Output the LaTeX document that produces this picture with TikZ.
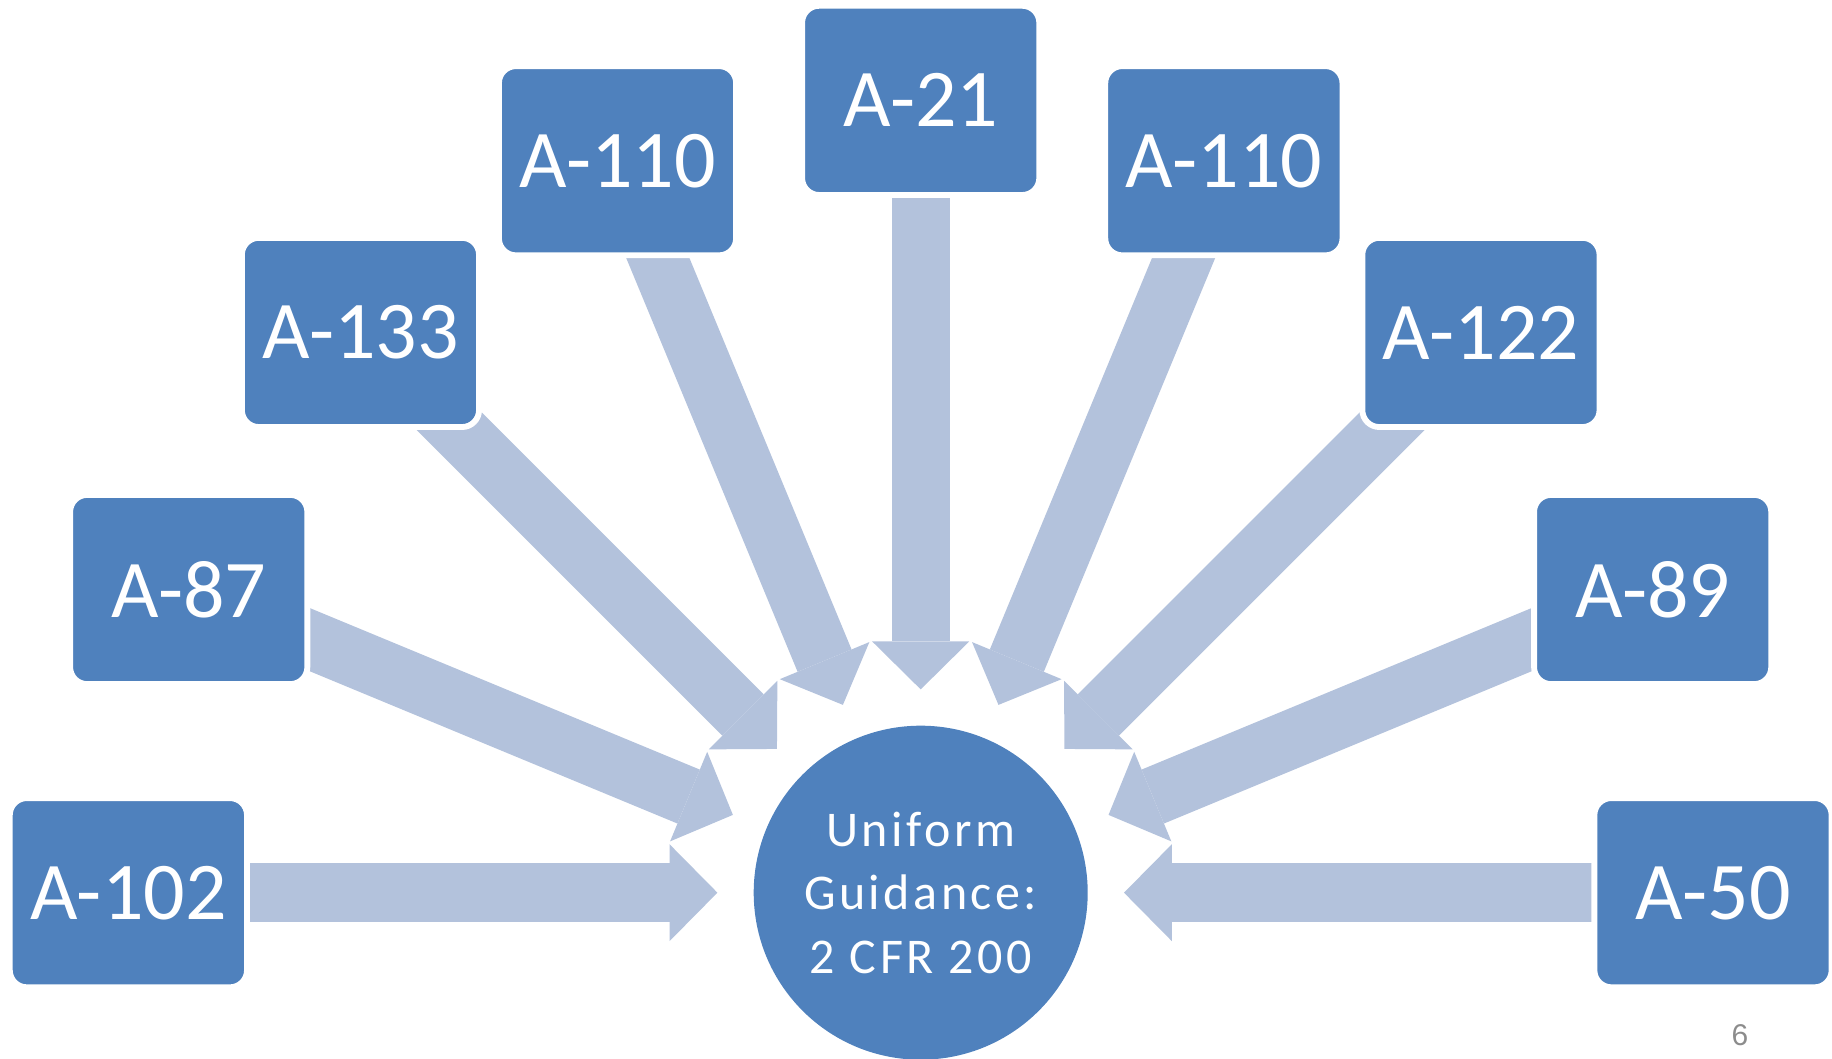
\documentclass[tikz,border=0pt]{standalone}
\usepackage{fontspec}
\setmainfont{Carlito}
\newfontfamily\hubfont[LetterSpace=7]{Carlito}
\newfontfamily\pagefont{Liberation Sans}
\usetikzlibrary{arrows.meta, backgrounds}
\definecolor{boxblue}{RGB}{79,129,189}
\definecolor{arrowblue}{RGB}{179,194,220}

\begin{document}
\begin{tikzpicture}[
  x=1pt, y=1pt,
  block/.style={rectangle, draw=white, line width=5.85pt, fill=boxblue, rounded corners=17pt, minimum width=237.2pt, minimum height=189.2pt, inner sep=0pt, text=white, font=\fontsize{82}{90}\selectfont},
  hubnode/.style={circle, fill=boxblue, minimum size=334pt, inner sep=0pt, outer sep=0pt, align=center, text=white, font=\hubfont\fontsize{50}{63.7}\selectfont},
  bigarrow/.style={draw=arrowblue, line width=58.4pt, shorten >=36.3pt, -{Triangle[length=47.9pt, width=97pt, line width=0pt]}},
]
  \useasboundingbox (0,0) rectangle (1832,1059);

  \node[hubnode] (hub) at (920.7,166.3) {Uniform\\Guidance:\\2 CFR 200};

  \node[block] (a102) at ([shift={(180:792.3pt)}]hub) {A-102};
  \node[block] (a87) at ([shift={(157.5:792.3pt)}]hub) {A-87};
  \node[block] (a133) at ([shift={(135:792.3pt)}]hub) {A-133};
  \node[block] (a110l) at ([shift={(112.5:792.3pt)}]hub) {A-110};
  \node[block] (a21) at ([shift={(90:792.3pt)}]hub) {A-21};
  \node[block] (a110r) at ([shift={(67.5:792.3pt)}]hub) {A-110};
  \node[block] (a122) at ([shift={(45:792.3pt)}]hub) {A-122};
  \node[block] (a89) at ([shift={(22.5:792.3pt)}]hub) {A-89};
  \node[block] (a50) at ([shift={(0:792.3pt)}]hub) {A-50};

  \begin{scope}[on background layer]
    \draw[bigarrow] (a102.center) -- (hub);
    \draw[bigarrow] (a87.center) -- (hub);
    \draw[bigarrow] (a133.center) -- (hub);
    \draw[bigarrow] (a110l.center) -- (hub);
    \draw[bigarrow] (a21.center) -- (hub);
    \draw[bigarrow] (a110r.center) -- (hub);
    \draw[bigarrow] (a122.center) -- (hub);
    \draw[bigarrow] (a89.center) -- (hub);
    \draw[bigarrow] (a50.center) -- (hub);
  \end{scope}

  \node[text=gray!90, font=\pagefont\fontsize{30}{36}\selectfont] (pagenum) at (1740,24) {6};
\end{tikzpicture}
\end{document}
